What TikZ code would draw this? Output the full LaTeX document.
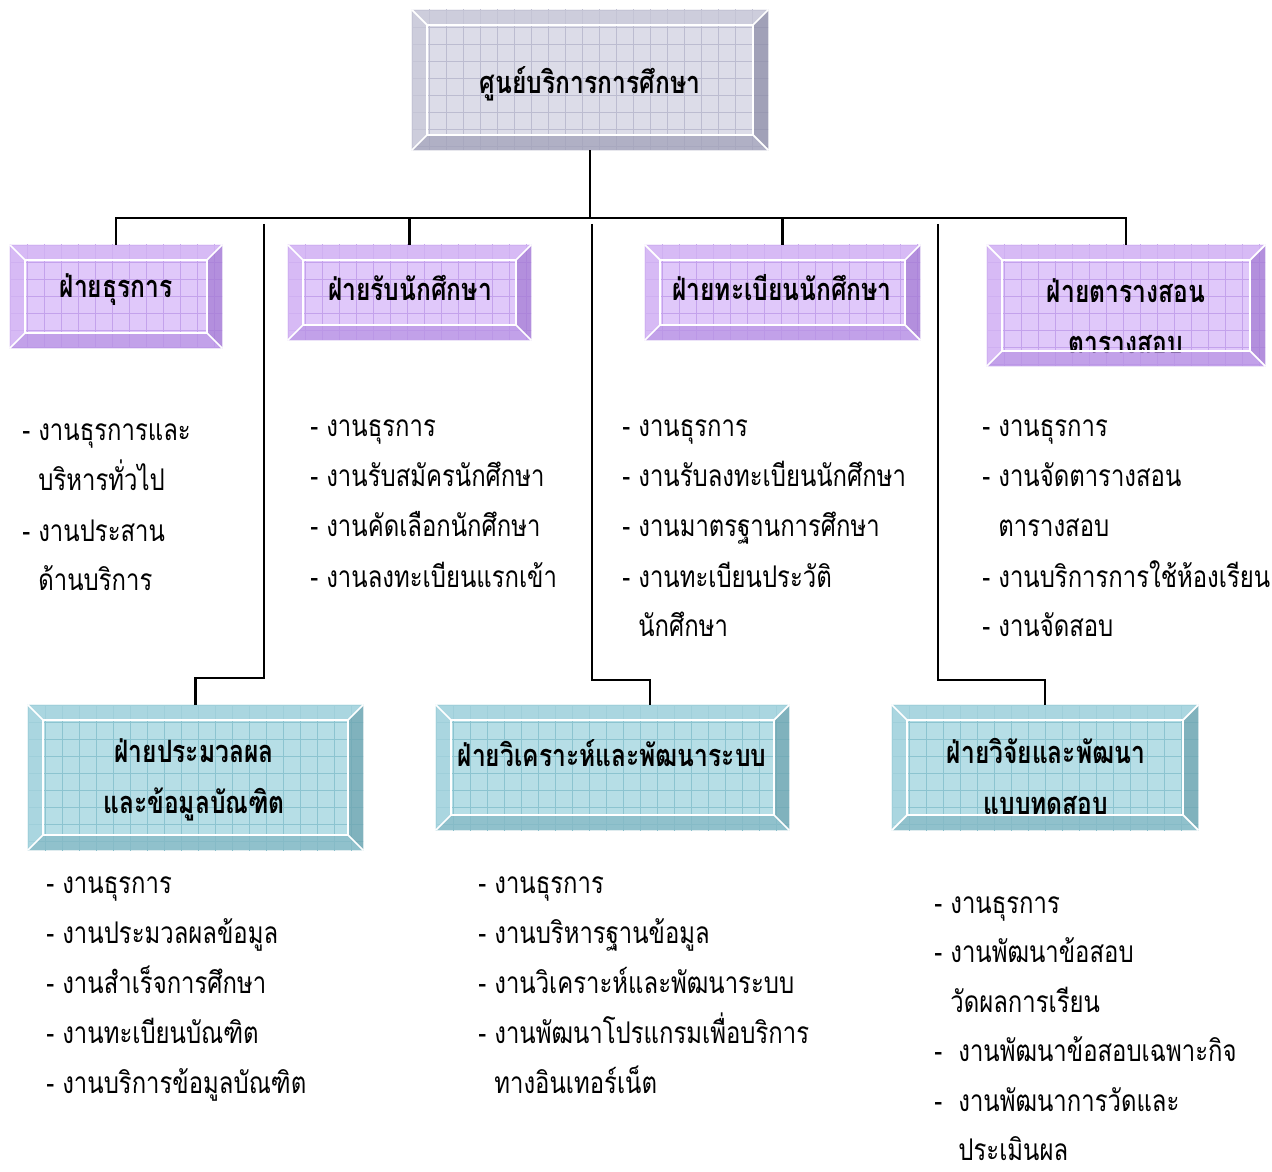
\documentclass[tikz,border=0pt]{standalone}
\usepackage{fontspec}
\newfontfamily\thaifont[Script=Thai,FakeStretch=0.8]{Loma}
\usetikzlibrary{calc}

\definecolor{graface}{HTML}{DCDCE8}
\definecolor{gragrid}{HTML}{BCBCD0}
\definecolor{gratop}{HTML}{C8C8D8}
\definecolor{graside}{HTML}{8E8EA8}
\definecolor{grabot}{HTML}{A2A2BA}
\definecolor{purface}{HTML}{E0C8FA}
\definecolor{purgrid}{HTML}{C4A2EC}
\definecolor{purtop}{HTML}{D4B6F4}
\definecolor{purside}{HTML}{A47CD4}
\definecolor{purbot}{HTML}{B894E4}
\definecolor{tealface}{HTML}{B6DEE6}
\definecolor{tealgrid}{HTML}{8CC4D0}
\definecolor{tealtop}{HTML}{A6D4DE}
\definecolor{tealside}{HTML}{6EA4B0}
\definecolor{tealbot}{HTML}{84B8C4}

% bevelled frame drawn on top of a box (and its title)
\newcommand\bevel[2]{%
  \fill[#2top, opacity=0.75] (#1.north west) -- (#1.north east) -- ($(#1.north east)+(-15,15)$) -- ($(#1.north west)+(15,15)$) -- cycle;
  \fill[#2top, opacity=0.75] (#1.north west) -- ($(#1.north west)+(15,15)$) -- ($(#1.south west)+(15,-15)$) -- (#1.south west) -- cycle;
  \fill[#2side, opacity=0.75] (#1.north east) -- ($(#1.north east)+(-15,15)$) -- ($(#1.south east)+(-15,-15)$) -- (#1.south east) -- cycle;
  \fill[#2bot, opacity=0.75] (#1.south west) -- ($(#1.south west)+(15,-15)$) -- ($(#1.south east)+(-15,-15)$) -- (#1.south east) -- cycle;
  \draw[white, line width=1pt] ($(#1.north west)+(15,15)$) rectangle ($(#1.south east)+(-15,-15)$);
  \draw[white, line width=1pt] (#1.north west) -- ++(15,15) (#1.north east) -- ++(-15,15)
    (#1.south west) -- ++(15,-15) (#1.south east) -- ++(-15,-15);
}

\tikzset{
  dims/.style 2 args={minimum width=#1*0.02cm, minimum height=#2*0.02cm},
  box/.style={rectangle, inner sep=0pt, fill=#1face,
    path picture={
      \foreach \k in {0,...,24}{
        \draw[#1grid, line width=0.4pt] ($(path picture bounding box.north west)+(\k*17,-5)$) -- ++(0,200);
        \draw[#1grid, line width=0.4pt] ($(path picture bounding box.north west)+(-5,\k*17)$) -- ++(420,0);
      }}},
  title/.style={font={\thaifont\bfseries\fontsize{17.5}{29}\selectfont}, align=center, inner sep=0pt},
  task/.style={font={\thaifont\fontsize{17}{28}\selectfont}, anchor=base west, inner sep=0pt},
  link/.style={line width=1.2pt},
}

\begin{document}
\begin{tikzpicture}[x=0.02cm, y=-0.02cm]
  \useasboundingbox (0,0) rectangle (1272,1172);

  % Boxes
  \node[box=gra, dims={356}{140}] (top) at (590,80) {};
  \node[box=pur, dims={212}{103}] (adm) at (116,296.5) {};
  \node[box=pur, dims={243}{95}] (admit) at (409.5,292.5) {};
  \node[box=pur, dims={275}{95}] (reg) at (782.5,292.5) {};
  \node[box=pur, dims={278}{121}] (sched) at (1126,305.5) {};
  \node[box=teal, dims={335}{145}] (proc) at (195.5,777.5) {};
  \node[box=teal, dims={353}{125}] (sys) at (612.5,767.5) {};
  \node[box=teal, dims={306}{125}] (test) at (1045,767.5) {};

  % Titles
  \node[title] (top-t) at (590,84) {ศูนย์บริการการศึกษา};
  \node[title] (adm-t) at (116,290) {ฝ่ายธุรการ};
  \node[title] (admit-t) at (410,288) {ฝ่ายรับนักศึกษา};
  \node[title] (reg-t) at (782,288) {ฝ่ายทะเบียนนักศึกษา};
  \node[title] (sched-t) at (1126,316) {ฝ่ายตารางสอน\\ตารางสอบ};
  \node[title] (proc-t) at (194,780) {ฝ่ายประมวลผล\\และข้อมูลบัณฑิต};
  \node[title] (sys-t) at (612,753) {ฝ่ายวิเคราะห์และพัฒนาระบบ};
  \node[title] (test-t) at (1046,776) {ฝ่ายวิจัยและพัฒนา\\แบบทดสอบ};

  \foreach \n/\c in {top/gra, adm/pur, admit/pur, reg/pur, sched/pur, proc/teal, sys/teal, test/teal}
    \bevel{\n}{\c};

  % Connectors
  \coordinate (bus) at (590,218);
  \draw[link] (top.south) -- (bus);
  \draw[link] (adm.north) |- (sched.north |- bus) -- (sched.north);
  \draw[link] (admit.north) -- (admit.north |- bus);
  \draw[link] (reg.north) -- (reg.north |- bus);
  \coordinate (procup) at (264,224);
  \coordinate (sysup) at (592,224);
  \coordinate (testup) at (938,224);
  \draw[link] (procup) |- ($(proc.north)+(0,-27)$) -- (proc.north);
  \draw[link] (sysup) |- ($(sys.north)+(37.5,-25)$) -- ($(sys.north)+(37.5,0)$);
  \draw[link] (testup) |- ($(test.north)+(0,-25)$) -- (test.north);

  % Task lists
  \foreach \t [count=\i] in {- งานธุรการและ, \phantom{- }บริหารทั่วไป, - งานประสาน, \phantom{- }ด้านบริการ}
    \node[task] (adm-\i) at (22,{441+50*(\i-1)}) {\t};
  \foreach \t [count=\i] in {- งานธุรการ, - งานรับสมัครนักศึกษา, - งานคัดเลือกนักศึกษา, - งานลงทะเบียนแรกเข้า}
    \node[task] (admit-\i) at (310,{437+50*(\i-1)}) {\t};
  \foreach \t [count=\i] in {- งานธุรการ, - งานรับลงทะเบียนนักศึกษา, - งานมาตรฐานการศึกษา, - งานทะเบียนประวัติ, \phantom{- }นักศึกษา}
    \node[task] (reg-\i) at (622,{437+50*(\i-1)}) {\t};
  \foreach \t [count=\i] in {- งานธุรการ, - งานจัดตารางสอน, \phantom{- }ตารางสอบ, - งานบริการการใช้ห้องเรียน, - งานจัดสอบ}
    \node[task] (sched-\i) at (982,{437+50*(\i-1)}) {\t};
  \foreach \t [count=\i] in {- งานธุรการ, - งานประมวลผลข้อมูล, - งานสำเร็จการศึกษา, - งานทะเบียนบัณฑิต, - งานบริการข้อมูลบัณฑิต}
    \node[task] (proc-\i) at (46,{893+50*(\i-1)}) {\t};
  \foreach \t [count=\i] in {- งานธุรการ, - งานบริหารฐานข้อมูล, - งานวิเคราะห์และพัฒนาระบบ, - งานพัฒนาโปรแกรมเพื่อบริการ, \phantom{- }ทางอินเทอร์เน็ต}
    \node[task] (sys-\i) at (478,{893+50*(\i-1)}) {\t};
  \foreach \t [count=\i] in {- งานธุรการ, - งานพัฒนาข้อสอบ, \phantom{- }วัดผลการเรียน, -~ งานพัฒนาข้อสอบเฉพาะกิจ, -~ งานพัฒนาการวัดและ, \phantom{-~ }ประเมินผล}
    \node[task] (test-\i) at (934,{913+49.5*(\i-1)}) {\t};
\end{tikzpicture}
\end{document}
